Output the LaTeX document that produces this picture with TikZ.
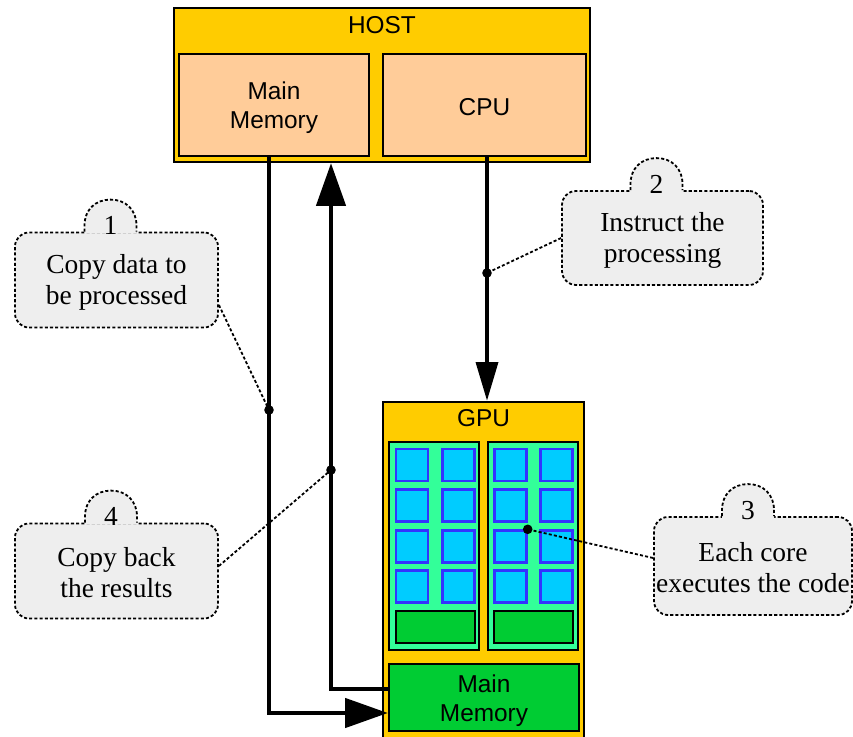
\documentclass[tikz,border=0pt]{standalone}
\usepackage{fontspec}
\setmainfont{Liberation Serif}
\newfontfamily\boxfont{Liberation Sans}
\usetikzlibrary{arrows.meta,calc}

\definecolor{hostfill}{HTML}{FFCC00}
\definecolor{unitfill}{HTML}{FFCC99}
\definecolor{smfill}{HTML}{33FF99}
\definecolor{corefill}{HTML}{00CCFF}
\definecolor{coreedge}{HTML}{3333FF}
\definecolor{memfill}{HTML}{00CC33}
\definecolor{notefill}{HTML}{EEEEEE}

% bump on top of a note: #1 note node, #2 x offset, #3 name of number node, #4 number
\newcommand\notebump[4]{%
  \fill[notefill] ($(#1.north)+(#2-26,2)$) -- ($(#1.north)+(#2-26,-6)$)
    .. controls ($(#1.north)+(#2-26,-22)$) and ($(#1.north)+(#2-15,-32)$) .. ($(#1.north)+(#2,-32)$)
    .. controls ($(#1.north)+(#2+15,-32)$) and ($(#1.north)+(#2+26,-22)$) .. ($(#1.north)+(#2+26,-6)$)
    -- ($(#1.north)+(#2+26,2)$) -- cycle;
  \draw[noteedge] ($(#1.north)+(#2-26,0)$) -- ($(#1.north)+(#2-26,-6)$)
    .. controls ($(#1.north)+(#2-26,-22)$) and ($(#1.north)+(#2-15,-32)$) .. ($(#1.north)+(#2,-32)$)
    .. controls ($(#1.north)+(#2+15,-32)$) and ($(#1.north)+(#2+26,-22)$) .. ($(#1.north)+(#2+26,-6)$)
    -- ($(#1.north)+(#2+26,0)$);
  \node[numtext] (#3) at ($(#1.north)+(#2,-6)$) {#4};
}

\begin{document}
\begin{tikzpicture}[x=0.75pt,y=-0.75pt,
  sized/.style 2 args={minimum width=#1*0.75pt, minimum height=#2*0.75pt},
  box/.style={draw=black, line width=1.9pt, inner sep=0pt, anchor=center},
  label/.style={inner sep=0pt, align=center, font=\boxfont\fontsize{18.3}{22}\selectfont},
  core/.style={draw=coreedge, fill=corefill, line width=1.8pt, inner sep=0pt, sized={32}{32}},
  flow/.style={line width=2.6pt, line join=miter},
  bigtip/.style={-{Triangle[length=32pt,width=22pt]}},
  smalltip/.style={-{Triangle[length=29pt,width=16.5pt]}},
  dotmark/.style={fill=black, inner sep=0pt, minimum size=7.2pt, circle},
  noteedge/.style={draw=black, line width=1.35pt, dash pattern=on 2.3pt off 1.6pt},
  note/.style={noteedge, fill=notefill, rounded corners=10.5pt, inner sep=0pt},
  notetext/.style={inner sep=0pt, align=center, font=\fontsize{20.6}{23.2}\selectfont},
  numtext/.style={inner sep=0pt, font=\fontsize{20.6}{22}\selectfont},
  leader/.style={line width=1.35pt, dash pattern=on 2.3pt off 1.6pt},
]
\useasboundingbox (0,0) rectangle (853,737);

% host side
\node[box, fill=hostfill, sized={416}{154}] (host) at (382,85) {};
\node[label] (hostlabel) at (382,25) {HOST};
\node[box, fill=unitfill, sized={190}{102}] (hmm) at (274,105) {};
\node[label] (hmmtext) at ($(hmm)+(0,3)$) {Main\\Memory};
\node[box, fill=unitfill, sized={203}{102}] (cpu) at (484.5,105) {};
\node[label] (cputext) at ($(cpu)+(0,2.5)$) {CPU};

% device side
\node[box, fill=hostfill, sized={201}{338}] (gpu) at (483.5,571) {};
\node[label] (gpulabel) at (483.5,418) {GPU};
\node[box, fill=smfill, sized={90}{208}] (sml) at (434,546) {};
\node[box, fill=smfill, sized={90}{208}] (smr) at (533,546) {};
\foreach \s/\xa/\xb in {l/412/458.5, r/510.5/556.5}
  \foreach \r/\yy in {1/465, 2/505.5, 3/546.5, 4/586.5} {
    \node[core] (core-\s-\r-1) at (\xa,\yy) {};
    \node[core] (core-\s-\r-2) at (\xb,\yy) {};
  }
\node[box, fill=memfill, sized={79}{32}] (barl) at (435.5,627) {};
\node[box, fill=memfill, sized={79}{32}] (barr) at (533.5,627) {};
\node[box, fill=memfill, sized={190}{67}] (gmem) at (484,697.5) {};
\node[label] (gmemtext) at ($(gmem)+(0,3)$) {Main\\Memory};

% data and control flow
\draw[flow, bigtip] ($(hmm.south)+(-5,0)$) |- ($(gmem.west)+(0,15.5)$);
\draw[flow, bigtip] ($(gmem.west)+(0,-8.5)$) -| ($(host.south)+(-51,0)$);
\draw[flow, smalltip] ($(cpu.south)+(2.5,0)$) -- ($(gpu.north)+(3.5,0)$);

% marks on the flows
\coordinate (d1) at (269,410);
\coordinate (d2) at (331,470);
\coordinate (d3) at (487,273);
\coordinate (d4) at (core-r-3-1.north east);
\foreach \d in {d1,d2,d3,d4}
  \node[dotmark] (m-\d) at (\d) {};

% notes
\node[note, sized={203}{95}] (c1) at (116.5,280) {};
\node[notetext] (t1) at ($(c1)+(0,2)$) {Copy data to\\be processed};
\notebump{c1}{-6}{n1}{1}
\node[note, sized={201}{94}] (c2) at (662.5,238) {};
\node[notetext] (t2) at ($(c2)+(0,2)$) {Instruct the\\processing};
\notebump{c2}{-6}{n2}{2}
\node[note, sized={198}{98}] (c3) at (753,566) {};
\node[notetext] (t3) at ($(c3)+(0,1.5)$) {Each core\\executes the code};
\notebump{c3}{-5}{n3}{3}
\node[note, sized={203}{95}] (c4) at (116.5,571) {};
\node[notetext] (t4) at ($(c4)+(0,1.5)$) {Copy back\\the results};
\notebump{c4}{-5.5}{n4}{4}

\draw[leader] ($(c1.east)+(0,25)$) -- (m-d1.center);
\draw[leader] (c2.west) -- (m-d3.center);
\draw[leader] ($(c3.west)+(0,-8)$) -- (m-d4.center);
\draw[leader] ($(c4.east)+(0,-5)$) -- (m-d2.center);
\end{tikzpicture}
\end{document}
